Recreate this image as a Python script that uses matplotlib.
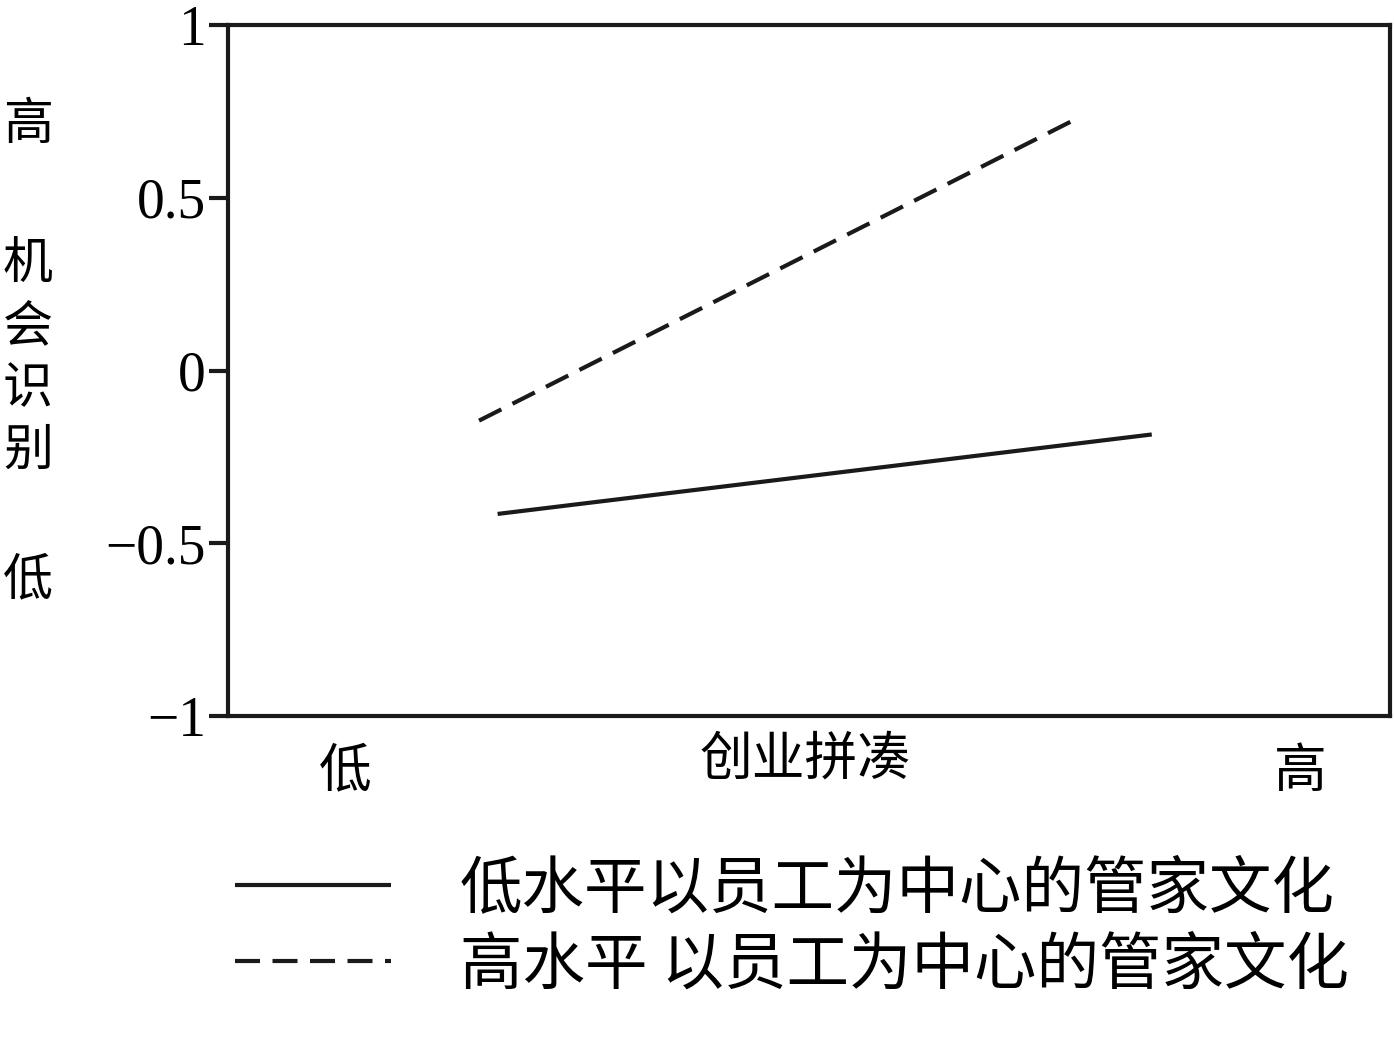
import matplotlib.pyplot as plt
import numpy as np

plt.rcParams['font.family'] = ['Noto Sans CJK SC', 'DejaVu Sans']

# data
x_low = [0.232, 0.795]
y_low = [-0.415, -0.185]      # 低水平以员工为中心的管家文化
x_high = [0.216, 0.725]
y_high = [-0.145, 0.72]       # 高水平 以员工为中心的管家文化

yticks = [-1, -0.5, 0, 0.5, 1]
ytick_labels = ['\u22121', '\u22120.5', '0', '0.5', '1']
labels = ['低水平以员工为中心的管家文化', '高水平 以员工为中心的管家文化']

fig = plt.figure(figsize=(13.94, 10.45), dpi=100)
ax = fig.add_axes([0.1636, 0.3148, 0.8335, 0.6612])

ax.plot(x_low, y_low, color='#1a1a1a', lw=3, solid_capstyle='butt', label=labels[0])
ax.plot(x_high, y_high, color='#1a1a1a', lw=3, dashes=(6, 3), label=labels[1])

ax.set_xlim(0, 1)
ax.set_ylim(-1, 1)

for s in ax.spines.values():
    s.set_linewidth(3)
    s.set_color('#1a1a1a')

ax.set_xticks([])
ax.set_yticks(yticks)
ax.set_yticklabels(ytick_labels, family='Liberation Serif', fontsize=40)
ax.tick_params(axis='y', direction='out', length=14, width=3, color='#1a1a1a', pad=2)

# x axis labels
ax.text(0.101, -0.08, '低', transform=ax.transAxes, ha='center', va='center', fontsize=38)
ax.text(0.923, -0.08, '高', transform=ax.transAxes, ha='center', va='center', fontsize=38)
ax.text(0.497, -0.062, '创业拼凑', transform=ax.transAxes, ha='center', va='center', fontsize=38)

# y axis labels, stacked vertically
fig.text(28 / 1394, 1 - 125 / 1045, '高', ha='center', va='center', fontsize=36)
fig.text(28 / 1394, 1 - 358 / 1045, '机\n会\n识\n别', ha='center', va='center',
         fontsize=36, linespacing=1.25)
fig.text(28 / 1394, 1 - 580 / 1045, '低', ha='center', va='center', fontsize=36)

fig.legend(loc='center', bbox_to_anchor=(792 / 1394, 1 - 927 / 1045), frameon=False,
           fontsize=45, handlelength=2.5, handletextpad=1.1, labelspacing=0.2)

fig.savefig('out.png', dpi=100)
